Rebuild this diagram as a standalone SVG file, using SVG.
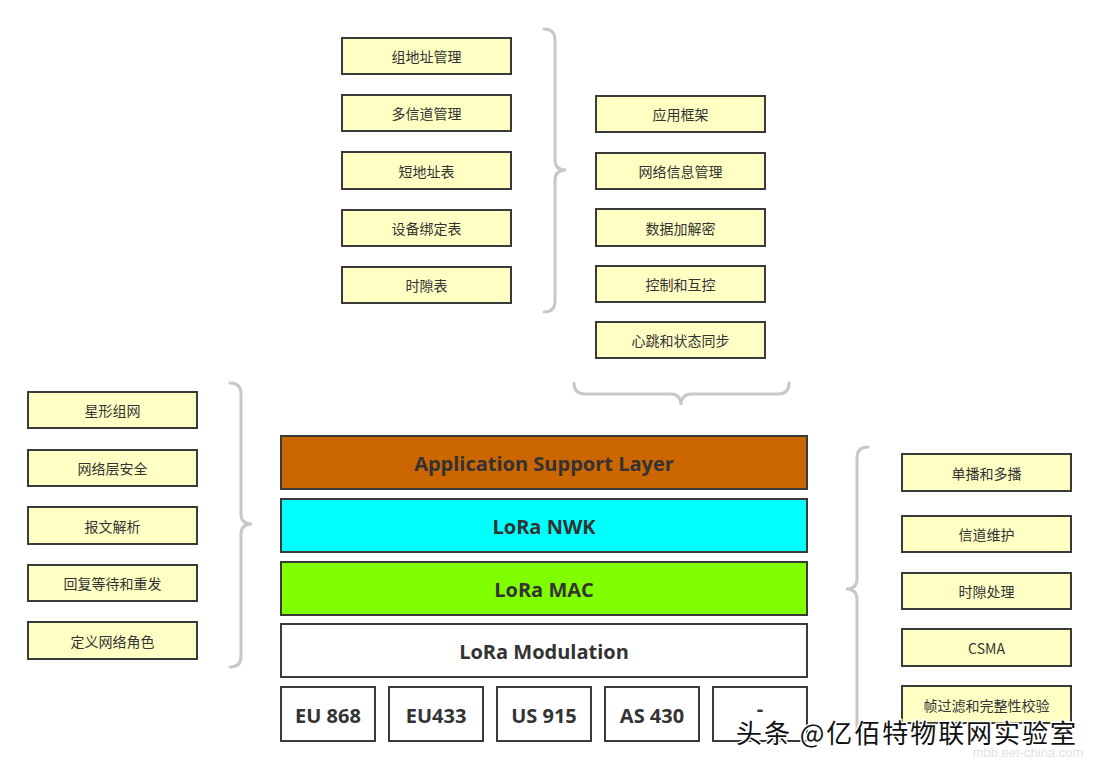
<svg xmlns="http://www.w3.org/2000/svg" width="1099" height="769" viewBox="0 0 1099 769">
<style>
.box{fill:#FFFFC4;stroke:#3a3a3a;stroke-width:2}
.lbl{font-family:"Noto Sans CJK SC","Noto Sans",sans-serif;font-size:14px;fill:#333;text-anchor:middle;dominant-baseline:central}
.layer{stroke:#3a3a3a;stroke-width:2}
.big{font-family:"Open Sans","Noto Sans",sans-serif;font-weight:bold;font-size:20px;fill:#333;text-anchor:middle;dominant-baseline:central}
.brace{fill:none;stroke:#c8c8c8;stroke-width:3;stroke-linecap:round}
.wm{font-family:"Noto Sans CJK SC",sans-serif;font-size:26px;fill:#111;stroke:#fff;stroke-width:3;paint-order:stroke}
</style>
<rect width="1099" height="769" fill="#fff"/>
<g id="connectors">
<path class="brace" d="M544,29 Q555,29 555,40 L555,160 Q555,170 566,170 Q555,170 555,180 L555,301 Q555,312 544,312"/>
<path class="brace" d="M574,383 Q574,394 585,394 L670,394 Q681,394 681,405 Q681,394 692,394 L778,394 Q789,394 789,383"/>
<path class="brace" d="M230,383 Q241,383 241,394 L241,514 Q241,524 252,524 Q241,524 241,534 L241,656 Q241,667 230,667"/>
<path class="brace" d="M868,447 Q857,447 857,458 L857,579 Q857,589 846,589 Q857,589 857,599 L857,735"/>
</g>
<g id="n-zdzgl"><rect class="box" x="342" y="38" width="169" height="36"/><text class="lbl" x="426.5" y="56">组地址管理</text></g>
<g id="n-dxdgl"><rect class="box" x="342" y="95" width="169" height="36"/><text class="lbl" x="426.5" y="113">多信道管理</text></g>
<g id="n-ddzb"><rect class="box" x="342" y="152" width="169" height="37"/><text class="lbl" x="426.5" y="170.5">短地址表</text></g>
<g id="n-sbbdb"><rect class="box" x="342" y="210" width="169" height="36"/><text class="lbl" x="426.5" y="228">设备绑定表</text></g>
<g id="n-sxb"><rect class="box" x="342" y="267" width="169" height="36"/><text class="lbl" x="426.5" y="285">时隙表</text></g>
<g id="n-yykj"><rect class="box" x="596" y="96" width="169" height="36"/><text class="lbl" x="680.5" y="114">应用框架</text></g>
<g id="n-wlxxgl"><rect class="box" x="596" y="153" width="169" height="36"/><text class="lbl" x="680.5" y="171">网络信息管理</text></g>
<g id="n-sjjjm"><rect class="box" x="596" y="209" width="169" height="37"/><text class="lbl" x="680.5" y="227.5">数据加解密</text></g>
<g id="n-kzhhk"><rect class="box" x="596" y="266" width="169" height="36"/><text class="lbl" x="680.5" y="284">控制和互控</text></g>
<g id="n-xthzt"><rect class="box" x="596" y="322" width="169" height="36"/><text class="lbl" x="680.5" y="340">心跳和状态同步</text></g>
<g id="n-xxzw"><rect class="box" x="28" y="392" width="169" height="36"/><text class="lbl" x="112.5" y="410">星形组网</text></g>
<g id="n-wlcaq"><rect class="box" x="28" y="450" width="169" height="36"/><text class="lbl" x="112.5" y="468">网络层安全</text></g>
<g id="n-bwjx"><rect class="box" x="28" y="507" width="169" height="37"/><text class="lbl" x="112.5" y="525.5">报文解析</text></g>
<g id="n-hfdd"><rect class="box" x="28" y="565" width="169" height="36"/><text class="lbl" x="112.5" y="583">回复等待和重发</text></g>
<g id="n-dywljs"><rect class="box" x="28" y="622" width="169" height="37"/><text class="lbl" x="112.5" y="640.5">定义网络角色</text></g>
<g id="n-dbhdb"><rect class="box" x="902" y="454" width="169" height="37"/><text class="lbl" x="986.5" y="472.5">单播和多播</text></g>
<g id="n-xdwh"><rect class="box" x="902" y="516" width="169" height="36"/><text class="lbl" x="986.5" y="534">信道维护</text></g>
<g id="n-sxcl"><rect class="box" x="902" y="573" width="169" height="36"/><text class="lbl" x="986.5" y="591">时隙处理</text></g>
<g id="n-csma"><rect class="box" x="902" y="629" width="169" height="37"/><text class="lbl" x="986.5" y="647.5">CSMA</text></g>
<g id="n-zgl"><rect class="box" x="902" y="686" width="169" height="37"/><text class="lbl" x="986.5" y="704.5">帧过滤和完整性校验</text></g>
<g id="n-aps"><rect class="layer" x="281" y="436" width="526" height="53" fill="#CC6600"/><text class="big" x="544" y="463">Application Support Layer</text></g>
<g id="n-nwk"><rect class="layer" x="281" y="499" width="526" height="53" fill="#00FFFF"/><text class="big" x="544" y="526">LoRa NWK</text></g>
<g id="n-mac"><rect class="layer" x="281" y="562" width="526" height="53" fill="#80FF00"/><text class="big" x="544" y="589">LoRa MAC</text></g>
<g id="n-mod"><rect class="layer" x="281" y="624" width="526" height="53" fill="#fff"/><text class="big" x="544" y="651">LoRa Modulation</text></g>
<g id="n-eu868"><rect class="layer" x="281" y="687" width="94" height="54" fill="#fff"/><text class="big" x="328" y="715">EU 868</text></g>
<g id="n-eu433"><rect class="layer" x="389" y="687" width="94" height="54" fill="#fff"/><text class="big" x="436" y="715">EU433</text></g>
<g id="n-us915"><rect class="layer" x="497" y="687" width="94" height="54" fill="#fff"/><text class="big" x="544" y="715">US 915</text></g>
<g id="n-as430"><rect class="layer" x="605" y="687" width="94" height="54" fill="#fff"/><text class="big" x="652" y="715">AS 430</text></g>
<g id="n-more"><rect class="layer" x="713" y="687" width="94" height="54" fill="#fff"/><text class="big" x="760" y="708">-</text></g>
<g id="watermark">
<text x="1028" y="757" font-family="Liberation Sans,sans-serif" font-size="13" fill="#e2e2e2" text-anchor="middle">mbb.eet-china.com</text>
<text class="wm" x="736" y="743" textLength="340" lengthAdjust="spacing">头条 @亿佰特物联网实验室</text>
</g>
</svg>
